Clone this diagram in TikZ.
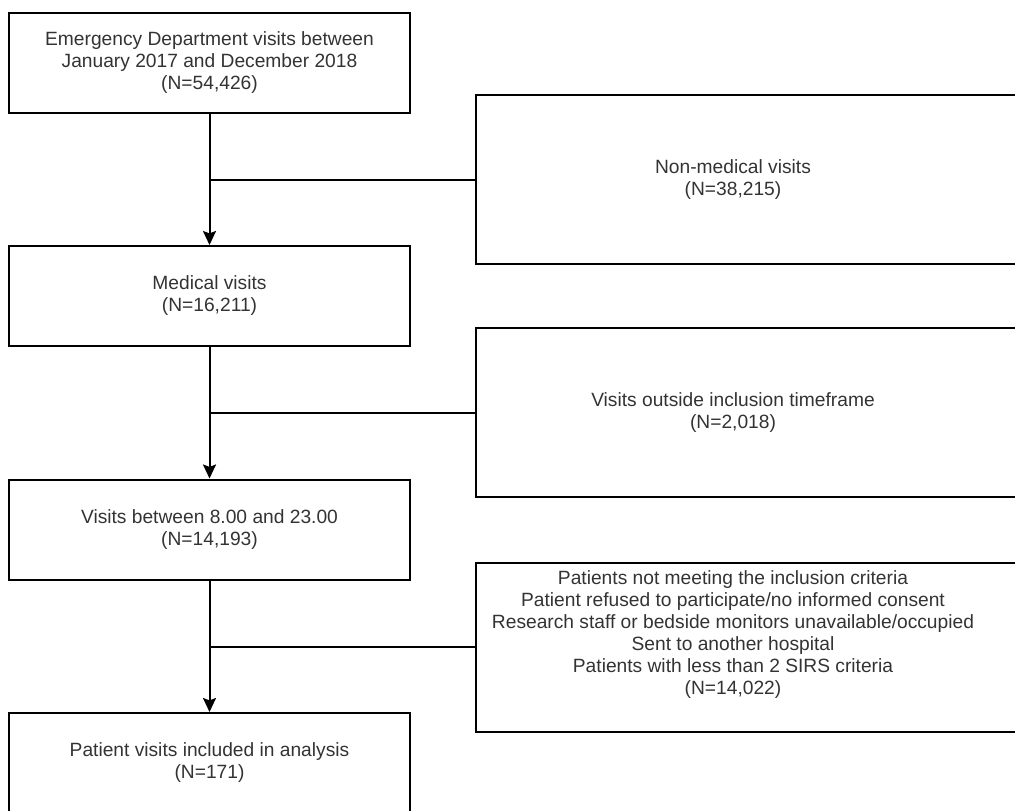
\documentclass[tikz,border=0pt]{standalone}
\usepackage{fontspec}
\setmainfont{Liberation Sans}
\usetikzlibrary{arrows.meta}

\begin{document}
\begin{tikzpicture}[x=0.5pt, y=-0.5pt, line width=1pt, line join=miter,
    >={Stealth[width=6.5pt,length=7pt,inset=1.2pt]},
    every node/.style={font=\fontsize{9.6}{11}\selectfont, text=black!80, align=center},
    flow/.style={draw, minimum width=200.5pt, minimum height=50pt, inner sep=0pt},
    excl/.style={minimum width=256pt, minimum height=83.5pt, inner sep=0pt}]
  \clip (0,0) rectangle (1015,810);

  % main flow
  \node[flow] (ed) at (209.5,62.5) {Emergency Department visits between\\January 2017 and December 2018\\(N=54,426)};
  \node[flow] (med) at (209.5,296) {Medical visits\\(N=16,211)};
  \node[flow] (hours) at (209.5,529.5) {Visits between 8.00 and 23.00\\(N=14,193)};
  \node[flow] (incl) at (209.5,763) {Patient visits included in analysis\\(N=171)};

  % exclusions
  \node[excl] (nonmed) at (733,179.5) {Non-medical visits\\(N=38,215)};
  \node[excl] (outside) at (733,412.5) {Visits outside inclusion timeframe\\(N=2,018)};
  \node[excl] (refused) at (733,635) {Patients not meeting the inclusion criteria\\Patient refused to participate/no informed consent\\Research staff or bedside monitors unavailable/occupied\\Sent to another hospital\\Patients with less than 2 SIRS criteria\\(N=14,022)};
  \foreach \b in {nonmed, outside}
    \draw (\b.north west) rectangle ([xshift=40pt]\b.south east);
  % text sits high in this one
  \draw ([yshift=-6pt]refused.north west) rectangle ([xshift=40pt,yshift=-6pt]refused.south east);
  \coordinate (refjoin) at ([yshift=-6pt]refused.west);

  \draw[->] (ed) -- (med);
  \draw[->] (med) -- (hours);
  \draw[->] (hours) -- (incl);
  \draw (ed.south |- nonmed.west) -- (nonmed.west);
  \draw (med.south |- outside.west) -- (outside.west);
  \draw (hours.south |- refjoin) -- (refjoin);
\end{tikzpicture}
\end{document}
